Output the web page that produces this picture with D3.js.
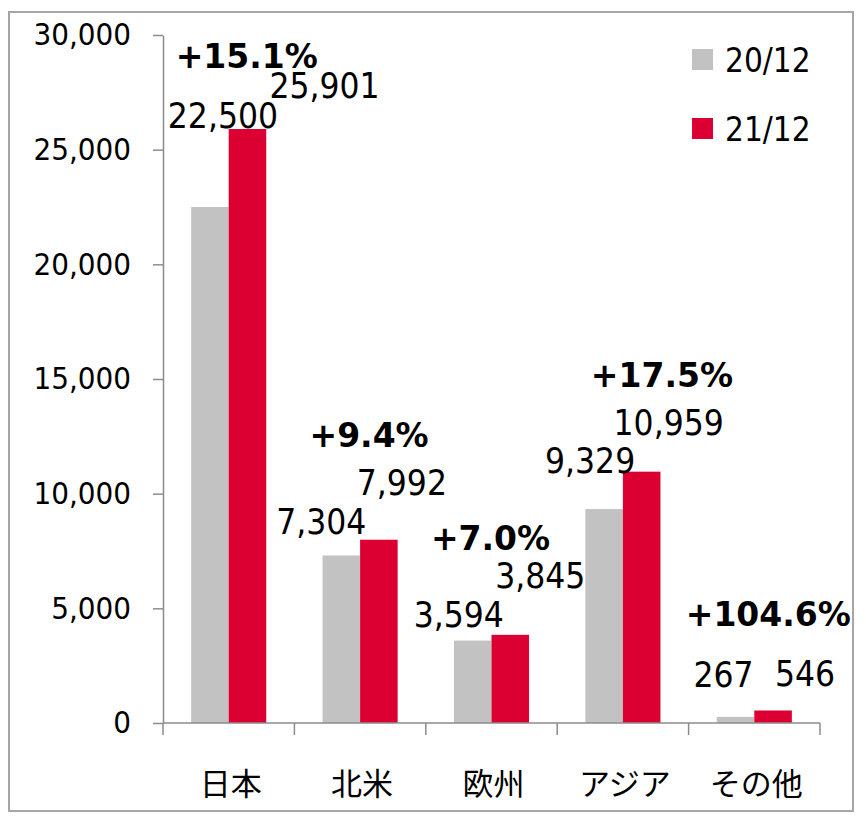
<!DOCTYPE html>
<html>
<head>
<meta charset="utf-8">
<script src="https://cdn.jsdelivr.net/npm/d3@7"></script>
<style>
  body { margin: 0; background: #fff; }
  svg text { font-family: "DejaVu Sans", sans-serif; fill: #000; }
  svg text.cond { font-family: "DejaVu Sans Condensed", "DejaVu Sans", sans-serif; font-stretch: condensed; }
</style>
</head>
<body>
<svg id="chart" width="866" height="816"></svg>
<script>
const categories = ['日本', '北米', '欧州', 'アジア', 'その他']
const seriesNames = ['20/12', '21/12']
const values2012 = [22500, 7304, 3594, 9329, 267]
const values2112 = [25901, 7992, 3845, 10959, 546]
const growthLabels = ['+15.1%', '+9.4%', '+7.0%', '+17.5%', '+104.6%']
const yTicks = [0, 5000, 10000, 15000, 20000, 25000, 30000]

// labels were hand-placed in the original, so nudge them (px)
const nudge2012 = [[13, -79], [-20, -21], [-14, -14], [-14, -36], [-12, -30]]
const nudge2112 = [[77, -31], [23, -45], [30, -47], [27, -37], [32, -24]]
const nudgeGrowth = [[18, -61], [9, -93], [-1, -85], [39, -85], [14, -84]]

const colors = { '20/12': '#c2c2c2', '21/12': '#dc0032' }
const axisColor = '#8c8c8c'

const svg = d3.select('#chart')

// outer frame
svg.append('rect')
    .attr('x', 9).attr('y', 12)
    .attr('width', 844).attr('height', 799)
    .attr('fill', 'none')
    .attr('stroke', '#a6a6a6')
    .attr('stroke-width', 2)

const x0 = d3.scaleBand().domain(categories).range([163, 820]).padding(0)
const x1 = d3.scaleBand().domain(seriesNames).range([0, x0.bandwidth()])
    .paddingInner(0).paddingOuter(0.75)
const y = d3.scaleLinear().domain([0, 30000]).range([723, 35])

const rows = categories.map((c, i) => ({
    cat: c,
    vals: [values2012[i], values2112[i]],
    growth: growthLabels[i],
    i: i
}))

// bars
const groups = svg.selectAll('.cat')
    .data(rows)
    .enter()
    .append('g')
    .attr('class', 'cat')
    .attr('transform', d => 'translate(' + x0(d.cat) + ',0)')

groups.selectAll('rect')
    .data(d => seriesNames.map((s, k) => ({ s: s, v: d.vals[k] })))
    .enter()
    .append('rect')
    .attr('x', d => x1(d.s))
    .attr('y', d => y(d.v))
    .attr('width', x1.bandwidth())
    .attr('height', d => y(0) - y(d.v))
    .attr('fill', d => colors[d.s])

// y axis
const yAxis = svg.append('g')
    .attr('transform', 'translate(163,0)')
    .call(d3.axisLeft(y).tickValues(yTicks).tickFormat(d3.format(',')).tickSize(10).tickSizeOuter(0).tickPadding(22))
yAxis.select('.domain').attr('stroke', axisColor).attr('stroke-width', 1.5)
yAxis.selectAll('.tick line').attr('stroke', axisColor).attr('stroke-width', 1.5)
yAxis.selectAll('.tick text')
    .attr('class', 'cond')
    .attr('font-size', 31)
    .attr('fill', '#000')

// x axis: line with ticks at band boundaries
const xAxis = svg.append('g').attr('class', 'xaxis')
xAxis.append('line')
    .attr('x1', x0.range()[0]).attr('x2', x0.range()[1])
    .attr('y1', y(0)).attr('y2', y(0))
    .attr('stroke', axisColor).attr('stroke-width', 1.5)
const bounds = categories.map(c => x0(c)).concat([x0.range()[1]])
xAxis.selectAll('.xtick')
    .data(bounds)
    .enter()
    .append('line')
    .attr('class', 'xtick')
    .attr('x1', d => d).attr('x2', d => d)
    .attr('y1', y(0)).attr('y2', y(0) + 12)
    .attr('stroke', axisColor).attr('stroke-width', 1.5)
xAxis.selectAll('.xlabel')
    .data(categories)
    .enter()
    .append('text')
    .attr('class', 'xlabel')
    .attr('x', d => x0(d) + x0.bandwidth() / 2 + 2)
    .attr('y', 795)
    .attr('text-anchor', 'middle')
    .style('font-family', '"Noto Sans CJK JP", sans-serif')
    .attr('font-size', 31)
    .text(d => d)

// value labels
const fmt = d3.format(',')
const labelSets = [
    { s: '20/12', vals: values2012, nudge: nudge2012 },
    { s: '21/12', vals: values2112, nudge: nudge2112 }
]
labelSets.forEach(set => {
    svg.selectAll('.lbl-' + set.s.replace('/', ''))
        .data(set.vals)
        .enter()
        .append('text')
        .attr('class', 'cond')
        .attr('x', (d, i) => x0(categories[i]) + x1(set.s) + x1.bandwidth() / 2 + set.nudge[i][0])
        .attr('y', (d, i) => y(d) + set.nudge[i][1])
        .attr('text-anchor', 'middle')
        .attr('font-size', 35)
        .text(d => fmt(d))
})

// growth labels
svg.selectAll('.growth')
    .data(rows)
    .enter()
    .append('text')
    .attr('class', 'growth')
    .attr('x', d => x0(d.cat) + x0.bandwidth() / 2 + nudgeGrowth[d.i][0])
    .attr('y', d => y(d.vals[1]) + nudgeGrowth[d.i][1])
    .attr('text-anchor', 'middle')
    .attr('font-size', 33)
    .attr('font-weight', 'bold')
    .text(d => d.growth)

// legend
const legend = svg.append('g').attr('transform', 'translate(692,49)')
const li = legend.selectAll('.li')
    .data(seriesNames)
    .enter()
    .append('g')
    .attr('transform', (d, i) => 'translate(0,' + i * 69 + ')')
li.append('rect')
    .attr('width', 21).attr('height', 21)
    .attr('fill', d => colors[d])
li.append('text')
    .attr('class', 'cond')
    .attr('x', 33)
    .attr('y', 11)
    .attr('dominant-baseline', 'central')
    .attr('font-size', 33)
    .text(d => d)
</script>
</body>
</html>
